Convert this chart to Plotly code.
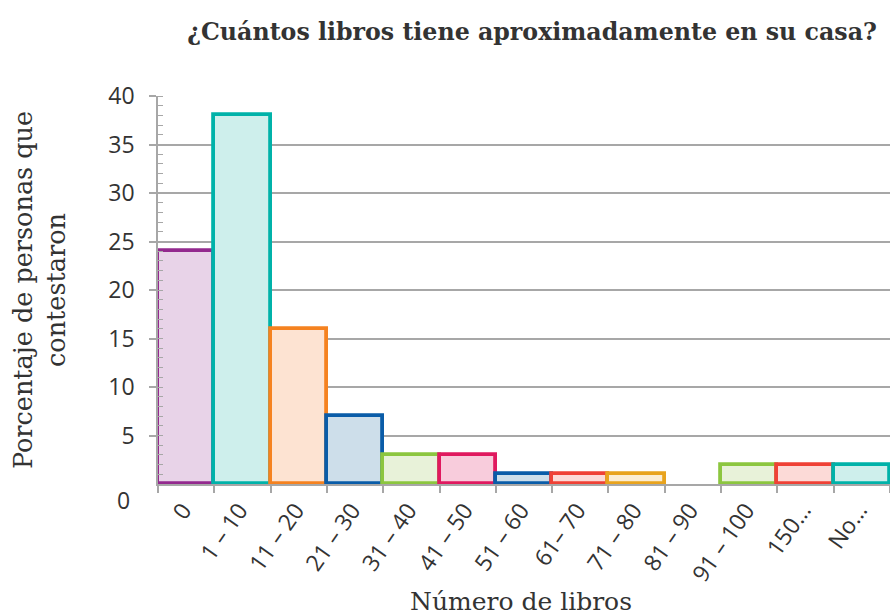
import plotly.graph_objects as go

categories = ["0", "1 – 10", "11 – 20", "21 – 30", "31 – 40", "41 – 50", "51 – 60",
              "61– 70", "71 – 80", "81 – 90", "91 – 100", "150…", "No…"]
values = [24, 38, 16, 7, 3, 3, 1, 1, 1, 0, 2, 2, 2]
line_colors = ["#93298E", "#00B2A9", "#F58220", "#0A5CA8", "#8CC63F", "#E0195F", "#0A5CA8",
               "#EF4136", "#E8A31D", "#E8A31D", "#8CC63F", "#EF4136", "#00B2A9"]
fill_colors = ["#E8D3E8", "#CEEFEC", "#FDE3D2", "#CDDEEA", "#E8F2D9", "#F8CCDC", "#CDDEEA",
               "#FCDAD7", "#FBEDD3", "#FBEDD3", "#E8F2D9", "#FCDAD7", "#CEEFEC"]
y_tick_vals = [5, 10, 15, 20, 25, 30, 35, 40]
y_tick_text = ["5", "10", "15", "20", "25", "30", "35", "40"]
zero_label = "0"

title_text = "¿Cuántos libros tiene aproximadamente en su casa?"
x_title = "Número de libros"
y_title = "Porcentaje de personas que<br>contestaron"

serif = "DejaVu Serif"
sans = "Open Sans"
grid = "#A7A7A7"
text_col = "#333333"

line_widths = [0 if v == 0 else 3.8 for v in values]

fig = go.Figure()
fig.add_trace(go.Bar(
    x=categories, y=values,
    marker=dict(color=fill_colors, line=dict(color=line_colors, width=line_widths)),
    width=1.0,
    hoverinfo="x+y",
))

fig.update_layout(
    width=890, height=616,
    margin=dict(l=158, r=0, t=96, b=132, autoexpand=False),
    plot_bgcolor="white", paper_bgcolor="white",
    bargap=0,
    showlegend=False,
    title=dict(text="<b>" + title_text + "</b>", x=532 / 890, xref="container", xanchor="center",
               y=1 - 32 / 616, yref="container", yanchor="middle",
               font=dict(family=serif, size=23.7, color=text_col)),
    xaxis=dict(
        type="category", automargin=False,
        showline=True, linecolor=grid, linewidth=1.5,
        ticks="outside", tickson="boundaries", ticklen=7, tickcolor=grid, tickwidth=1.5,
        tickangle=-55,
        ticklabelshift=-3,
        ticklabelstandoff=2,
        tickfont=dict(family=sans, size=23, color=text_col),
        showgrid=False,
        range=[-0.5, 12.5],
    ),
    yaxis=dict(
        range=[0, 40], automargin=False,
        tickvals=y_tick_vals, ticktext=y_tick_text,
        showline=True, linecolor=grid, linewidth=1.5,
        ticks="outside", ticklen=7, tickcolor=grid, tickwidth=1.5,
        showgrid=True, gridcolor=grid, gridwidth=1.5,
        zeroline=False,
        tickfont=dict(family=sans, size=23, color=text_col),
        ticklabelstandoff=10,
        minor=dict(dtick=1, ticks="inside", ticklen=5, tickcolor=grid, tickwidth=1, showgrid=False),
        title=dict(text=y_title, font=dict(family=serif, size=25.5, color=text_col), standoff=35),
    ),
)

fig.add_annotation(
    text=x_title, xref="paper", yref="paper", x=(521 - 158) / 732, y=-(601 - 484) / 388,
    xanchor="center", yanchor="middle", showarrow=False,
    font=dict(family=serif, size=25, color=text_col),
)

fig.add_annotation(
    text=zero_label, xref="paper", yref="y", x=0, y=0,
    xanchor="center", yanchor="middle", xshift=-35, yshift=-16, showarrow=False,
    font=dict(family=sans, size=23, color=text_col),
)

fig.write_html("out.html", config={"displayModeBar": False},
               post_script="document.body.style.margin='0';document.body.style.overflow='hidden';")
